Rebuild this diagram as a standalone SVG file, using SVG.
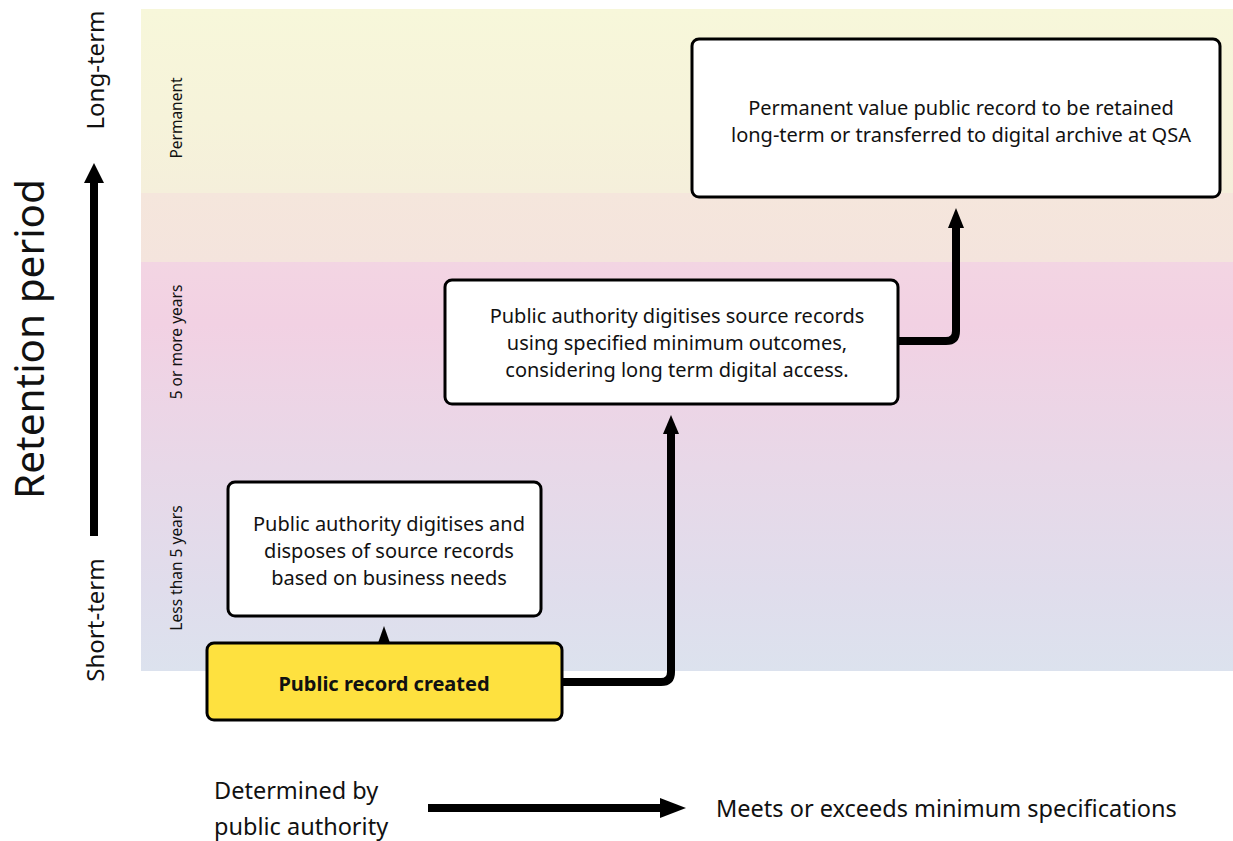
<svg xmlns="http://www.w3.org/2000/svg" width="1233" height="841" viewBox="0 0 1233 841">
<defs>
<linearGradient id="gTop" x1="0" y1="0" x2="0" y2="1">
<stop offset="0" stop-color="#f7f7da"/>
<stop offset="0.6" stop-color="#f6f3da"/>
<stop offset="1" stop-color="#f5efdb"/>
</linearGradient>
<linearGradient id="gMid" x1="0" y1="0" x2="0" y2="1">
<stop offset="0" stop-color="#f5e6dc"/>
<stop offset="1" stop-color="#f4e4dd"/>
</linearGradient>
<linearGradient id="gLow" x1="0" y1="0" x2="0" y2="1">
<stop offset="0" stop-color="#f3d5e3"/>
<stop offset="0.15" stop-color="#f2d1e3"/>
<stop offset="0.5" stop-color="#e8d8e8"/>
<stop offset="0.8" stop-color="#e0ddec"/>
<stop offset="1" stop-color="#dce2ee"/>
</linearGradient>
</defs>
<style>
.box{fill:#fff;stroke:#000;stroke-width:3}
.t{font-family:"Noto Sans","Open Sans",sans-serif;font-size:20px;fill:#111;text-anchor:middle}
.small{font-family:"Noto Sans","Open Sans",sans-serif;font-size:15.5px;fill:#111;text-anchor:middle}
.axis{font-family:"Noto Sans","Open Sans",sans-serif;fill:#111;text-anchor:middle}
.leg{font-family:"Noto Sans","Open Sans",sans-serif;font-size:23.5px;fill:#111;text-anchor:start}
.conn{fill:none;stroke:#000;stroke-width:8;stroke-linejoin:round}
</style>
<rect x="0" y="0" width="1233" height="841" fill="#fff"/>
<g id="background">
<rect x="141" y="9" width="1092" height="184" fill="url(#gTop)"/>
<rect x="141" y="193" width="1092" height="69" fill="url(#gMid)"/>
<rect x="141" y="262" width="1092" height="409" fill="url(#gLow)"/>
</g>
<g id="axis-labels">
<text class="axis" font-size="40.5" transform="translate(44,339) rotate(-90)">Retention period</text>
<text class="axis" font-size="24" transform="translate(104,70) rotate(-90)">Long-term</text>
<text class="axis" font-size="24" transform="translate(104,620) rotate(-90)">Short-term</text>
<text class="small" transform="translate(182,118) rotate(-90)">Permanent</text>
<text class="small" transform="translate(182,342) rotate(-90)">5 or more years</text>
<text class="small" transform="translate(182,568) rotate(-90)">Less than 5 years</text>
</g>
<g id="connectors">
<line x1="94" y1="536" x2="94" y2="182" stroke="#000" stroke-width="8"/>
<path d="M84,183 L94,163 L104,183 z" fill="#000"/>
<line x1="384" y1="643" x2="384" y2="640" stroke="#000" stroke-width="8"/>
<path d="M378,643 L384,626 L390,643 z" fill="#000"/>
<path class="conn" d="M562,682 L661,682 Q671,682 671,672 L671,432"/>
<path d="M663,434 L671,415 L679,434 z" fill="#000"/>
<path class="conn" d="M898,341 L946,341 Q956,341 956,331 L956,226"/>
<path d="M948,228 L956,208 L964,228 z" fill="#000"/>
<line x1="428" y1="808" x2="662" y2="808" stroke="#000" stroke-width="8"/>
<path d="M660,798 L686,808 L660,818 z" fill="#000"/>
</g>
<g id="node-short">
<rect class="box" x="228" y="482" width="313" height="134" rx="7"/>
<text class="t" x="389" y="531">Public authority digitises and</text>
<text class="t" x="389" y="558">disposes of source records</text>
<text class="t" x="389" y="585">based on business needs</text>
</g>
<g id="node-created">
<rect x="207" y="643" width="355" height="77" rx="7" fill="#fee13f" stroke="#000" stroke-width="3"/>
<text class="t" x="384" y="691" font-weight="bold">Public record created</text>
</g>
<g id="node-digitise">
<rect class="box" x="445" y="280" width="453" height="124" rx="7"/>
<text class="t" x="677" y="323">Public authority digitises source records</text>
<text class="t" x="677" y="350">using specified minimum outcomes,</text>
<text class="t" x="677" y="377">considering long term digital access.</text>
</g>
<g id="node-permanent">
<rect class="box" x="692" y="39" width="528" height="158" rx="7"/>
<text class="t" x="961" y="115">Permanent value public record to be retained</text>
<text class="t" x="961" y="142">long-term or transferred to digital archive at QSA</text>
</g>
<g id="legend">
<text class="leg" x="214" y="799">Determined by</text>
<text class="leg" x="214" y="835">public authority</text>
<text class="leg" x="716" y="817">Meets or exceeds minimum specifications</text>
</g>
</svg>
